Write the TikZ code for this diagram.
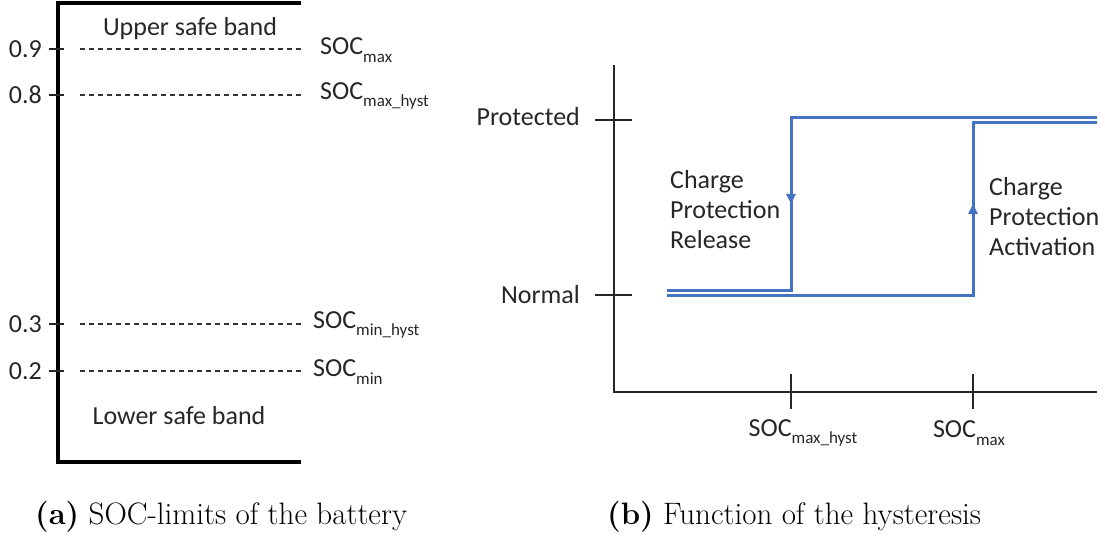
\documentclass[tikz,border=0pt]{standalone}
\usepackage{fontspec}
\setmainfont{Latin Modern Roman}
\newfontfamily\lbl{Carlito}
\usetikzlibrary{arrows.meta,decorations.markings}
\definecolor{curve}{HTML}{4472C4}
\newcommand{\socsub}[1]{SOC\raisebox{-0.28em}{\fontsize{17}{17}\selectfont #1}}
\tikzset{
  axis/.style={line width=1.7pt, black!85},
  thickaxis/.style={line width=3.2pt, black},
  tick/.style={line width=1.8pt, black!85},
  limit/.style={line width=1.2pt, dash pattern=on 5pt off 4pt, black!80},
  lab/.style={font=\lbl\fontsize{26}{30}\selectfont, inner sep=0pt, text=black!85},
  caption/.style={font=\fontsize{31}{36}\selectfont, inner sep=0pt, anchor=west},
  path/.style={curve, line width=3pt},
  arrowmark/.style={postaction={decorate}, decoration={markings,
     mark=at position #1 with {\arrow{Triangle[length=10pt,width=9pt]}}}},
}
\begin{document}
\begin{tikzpicture}[x=1pt,y=-1pt]
\useasboundingbox (0,0) rectangle (1105,537);

% ---------- (a) SOC limits ----------
\coordinate (aTL) at (58,3);
\coordinate (aTR) at (301,3);
\coordinate (aBL) at (58,462);
\coordinate (aBR) at (301,462);
\draw[thickaxis] (aTR) -- (aTL) -- (aBL) -- (aBR);

\foreach \n/\y/\v in {l9/49/0.9, l8/95/0.8, l3/324/0.3, l2/371/0.2}{
  \coordinate (\n a) at (49,\y);
  \coordinate (\n b) at (64,\y);
  \coordinate (\n c) at (80,\y);
  \coordinate (\n d) at (301,\y);
  \draw[tick] (\n a) -- (\n b);
  \draw[limit] (\n c) -- (\n d);
  \node[lab, anchor=east] (\n v) at (42,\y) {\v};
}
\node[lab, anchor=west] (smax)  at (320,50)  {\socsub{max}};
\node[lab, anchor=west] (smaxh) at (320,96)  {\socsub{max\_hyst}};
\node[lab, anchor=west] (sminh) at (313,325) {\socsub{min\_hyst}};
\node[lab, anchor=west] (smin)  at (313,372) {\socsub{min}};

\node[lab] (upper) at (190,29)  {Upper safe band};
\node[lab] (lower) at (179,416) {Lower safe band};

% ---------- (b) hysteresis ----------
\coordinate (bTop) at (614,65);
\coordinate (bO)   at (614,392);
\coordinate (bR)   at (1097,392);
\draw[axis] (bTop) -- (bO) -- (bR);

\coordinate (pA) at (595,120); \coordinate (pB) at (632,120);
\coordinate (nA) at (595,295); \coordinate (nB) at (632,295);
\draw[axis] (pA) -- (pB);
\draw[axis] (nA) -- (nB);
\node[lab, anchor=east] (prot) at (580,117) {Protected};
\node[lab, anchor=east] (norm) at (580,295) {Normal};

\coordinate (x1a) at (791,374); \coordinate (x1b) at (791,409);
\coordinate (x2a) at (973,374); \coordinate (x2b) at (973,409);
\draw[axis] (x1a) -- (x1b);
\draw[axis] (x2a) -- (x2b);
\node[lab] (xh) at (803,433) {\socsub{max\_hyst}};
\node[lab] (xm) at (969,433) {\socsub{max}};

% release path: protected -> normal at SOC_max_hyst
\coordinate (r0) at (667,290);
\coordinate (r1) at (791,290);
\coordinate (r2) at (791,118);
\coordinate (r3) at (1097,118);
\draw[path] (r0) -- (r1) -- (r2) -- (r3);
\path[path, arrowmark=0.5] (r2) -- (r1);

% activation path: normal -> protected at SOC_max
\coordinate (a0) at (667,295);
\coordinate (a1) at (973,295);
\coordinate (a2) at (973,123);
\coordinate (a3) at (1097,123);
\draw[path] (a0) -- (a1) -- (a2) -- (a3);
\path[path, arrowmark=0.53] (a1) -- (a2);

\node[lab, anchor=west, align=left, font=\lbl\fontsize{26}{30}\selectfont] (rel) at (670,210)
  {Charge\\Protection\\Release};
\node[lab, anchor=west, align=left, font=\lbl\fontsize{26}{30}\selectfont] (act) at (989,217)
  {Charge\\Protection\\Activation};

% ---------- captions ----------
\node[caption] (capa) at (35,517) {\textbf{(a)} SOC-limits of the battery};
\node[caption] (capb) at (607,517) {\textbf{(b)} Function of the hysteresis};
\end{tikzpicture}
\end{document}
